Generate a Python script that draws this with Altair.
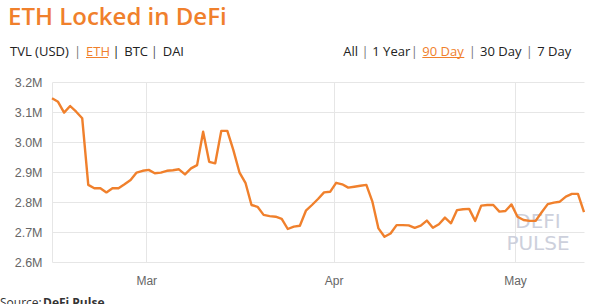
import altair as alt
import pandas as pd

# ---- data (ETH locked, millions) ----
values = [
    3.146, 3.134, 3.098, 3.120, 3.101, 3.079, 2.857, 2.846, 2.846, 2.832,
    2.846, 2.846, 2.859, 2.873, 2.898, 2.904, 2.907, 2.896, 2.898, 2.904,
    2.906, 2.909, 2.892, 2.912, 2.923, 3.034, 2.934, 2.929, 3.037, 3.037,
    2.973, 2.899, 2.864, 2.790, 2.784, 2.757, 2.753, 2.751, 2.744, 2.710,
    2.718, 2.721, 2.771, 2.790, 2.810, 2.832, 2.834, 2.864, 2.859, 2.848,
    2.851, 2.854, 2.857, 2.801, 2.712, 2.684, 2.695, 2.723, 2.723, 2.722,
    2.714, 2.721, 2.738, 2.714, 2.726, 2.748, 2.729, 2.773, 2.776, 2.777,
    2.737, 2.788, 2.790, 2.790, 2.768, 2.770, 2.792, 2.751, 2.740, 2.737,
    2.737, 2.766, 2.793, 2.798, 2.801, 2.818, 2.827, 2.827, 2.766,
]
start_date = "2020-02-14 10:00"
dates = pd.date_range(start_date, periods=len(values), freq="D").strftime("%Y-%m-%dT%H:%M:%S").tolist()
y_ticks = [2.6, 2.7, 2.8, 2.9, 3.0, 3.1, 3.2]
month_ticks = [3, 4, 5]
title_text = "ETH Locked in DeFi"
left_tabs = ["TVL (USD)", "ETH", "BTC", "DAI"]
right_tabs = ["All", "1 Year", "90 Day", "30 Day", "7 Day"]
watermark = ["DEFI", "PULSE"]
source_text = ["Source:", "DeFi Pulse"]

ORANGE = "#f0802c"
GRID = "#e6e6e6"
OX, OY = 52, 82  # plot origin on the page
W, H = 532, 180

df = pd.DataFrame({"date": dates, "tvl": values})


def one(s):
    return alt.Chart(pd.DataFrame({"t": [s]}))


def txt(s, x, y, size=13, color="#333333", align="left", weight="normal", font="Open Sans", opacity=1):
    return one(s).mark_text(
        align=align, baseline="alphabetic", fontSize=size, color=color,
        fontWeight=weight, font=font, opacity=opacity
    ).encode(text="t:N", x=alt.value(x - OX), y=alt.value(y - OY))


def underline(x1, x2, y):
    return one("u").mark_rule(color=ORANGE, strokeWidth=1).encode(
        x=alt.value(x1 - OX), x2=alt.value(x2 - OX), y=alt.value(y - OY)
    )


line = alt.Chart(df).mark_line(color=ORANGE, strokeWidth=2.4, strokeJoin="round").encode(
    x=alt.X(
        "date:T",
        scale=alt.Scale(nice=False),
        axis=alt.Axis(
            values=[alt.DateTime(year=2020, month=m, date=1) for m in month_ticks],
            format="%b", title=None, grid=True, gridColor=GRID, domain=False,
            ticks=False, tickSize=0, labelPadding=13, labelColor="#666666",
            labelFontSize=12, labelFont="Liberation Sans",
        ),
    ),
    y=alt.Y(
        "tvl:Q",
        scale=alt.Scale(domain=[2.6, 3.2], nice=False, zero=False),
        axis=alt.Axis(
            values=y_ticks, labelExpr="format(datum.value, '.1f') + 'M'",
            title=None, grid=True, gridColor=GRID, domain=True, domainColor=GRID,
            ticks=False, tickSize=0, labelPadding=10, labelColor="#666666",
            labelFontSize=12.5, labelFont="Liberation Sans",
        ),
    ),
)

PIPE = "#777777"
layers = [
    txt(watermark[0], 538, 228, size=20, color="#cdd0dc", align="center", font="DejaVu Sans"),
    txt(watermark[1], 538, 250, size=20, color="#cdd0dc", align="center", font="DejaVu Sans"),
    line,
    txt(title_text, 8, 25, size=24, color=ORANGE, weight=600),
    # left tabs
    txt(left_tabs[0], 10, 56, color="#222222"),
    txt("|", 77.7, 56, color=PIPE, align="center"),
    txt(left_tabs[1], 86, 56, color=ORANGE),
    underline(86, 108, 57.5),
    txt("|", 116, 56, color="#222222", align="center"),
    txt(left_tabs[2], 124.3, 56, color="#222222"),
    txt("|", 154.3, 56, color="#555555", align="center"),
    txt(left_tabs[3], 162.7, 56, color="#222222"),
    # right tabs
    txt(right_tabs[0], 343.3, 56, color="#222222"),
    txt("|", 365, 56, color=PIPE, align="center"),
    txt(right_tabs[1], 372.3, 56, color="#222222"),
    txt("|", 414.3, 56, color=PIPE, align="center"),
    txt(right_tabs[2], 422.3, 56, color=ORANGE),
    underline(422.3, 464.3, 57.5),
    txt("|", 472.3, 56, color=PIPE, align="center"),
    txt(right_tabs[3], 480, 56, color="#222222"),
    txt("|", 529.3, 56, color=PIPE, align="center"),
    txt(right_tabs[4], 537.3, 56, color="#222222"),
    # source line, cut off at the bottom edge as in the reference
    txt(source_text[0], 0, 307, size=12, color="#333333"),
    txt(source_text[1], 43, 307, size=12, color="#333333", weight="bold"),
]

chart = alt.layer(*layers).properties(
    width=W, height=H,
    autosize=alt.AutoSizeParams(type="none"),
    padding={"left": OX, "top": OY, "right": 592 - OX - W, "bottom": 304 - OY - H},
    background="white",
).configure_view(stroke=None)

chart.save("out.html", embed_options={"renderer": "svg", "actions": False})
